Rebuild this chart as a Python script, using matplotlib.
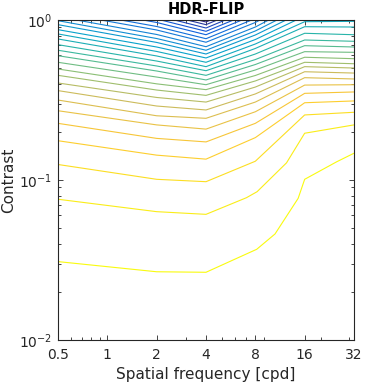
import numpy as np
import matplotlib
matplotlib.use("Agg")
import matplotlib.pyplot as plt
from matplotlib.colors import LinearSegmentedColormap
from matplotlib.ticker import FixedLocator, LogLocator, NullFormatter

# contour lines, bottom (yellow) to top (blue)
freq_cols = [0.5, 2, 4, 8, 16, 32]

# two lowest contours bend between the grid columns, so they get their own points
lowest_freq = [0.5, 2, 4, 8.16, 10.55, 14.6, 16, 25.1, 32]
lowest_contrast = [0.0309, 0.0267, 0.0265, 0.0369, 0.0460, 0.0768, 0.101, 0.130, 0.147]
second_freq = [0.5, 2, 4, 7.06, 8.2, 12.4, 16, 32]
second_contrast = [0.0758, 0.0634, 0.0610, 0.0775, 0.0845, 0.128, 0.196, 0.221]

# remaining contours, contrast at each of freq_cols (values > 1 leave the plot)
upper_contrast = [
    [0.125, 0.101, 0.0976, 0.131, 0.255, 0.265],
    [0.176, 0.143, 0.135, 0.184, 0.304, 0.312],
    [0.226, 0.182, 0.173, 0.226, 0.348, 0.355],
    [0.271, 0.221, 0.208, 0.267, 0.392, 0.394],
    [0.316, 0.252, 0.243, 0.307, 0.436, 0.428],
    [0.362, 0.290, 0.274, 0.345, 0.475, 0.466],
    [0.404, 0.328, 0.307, 0.381, 0.511, 0.501],
    [0.451, 0.365, 0.338, 0.416, 0.544, 0.533],
    [0.494, 0.399, 0.367, 0.450, 0.585, 0.573],
    [0.544, 0.440, 0.394, 0.487, 0.634, 0.628],
    [0.598, 0.480, 0.422, 0.527, 0.691, 0.678],
    [0.647, 0.516, 0.451, 0.566, 0.750, 0.736],
    [0.701, 0.554, 0.482, 0.613, 0.826, 0.809],
    [0.761, 0.596, 0.511, 0.664, 0.908, 0.904],
    [0.818, 0.636, 0.544, 0.708, 0.976, 0.981],
    [0.870, 0.678, 0.579, 0.755, 1.059, 1.067],
    [0.935, 0.724, 0.613, 0.806, 1.138, 1.155],
    [0.990, 0.766, 0.647, 0.854, 1.223, 1.241],
    [1.049, 0.812, 0.681, 0.904, 1.314, 1.334],
    [1.117, 0.866, 0.726, 0.965, 1.413, 1.433],
    [1.177, 0.911, 0.764, 1.022, 1.518, 1.540],
    [1.246, 0.965, 0.809, 1.082, 1.631, 1.655],
    [1.309, 1.015, 0.850, 1.138, 1.728, 1.753],
    [1.372, 1.067, 0.891, 1.197, 1.830, 1.857],
    [1.439, 1.114, 0.935, 1.259, 1.939, 1.967],
    [1.496, 1.155, 0.972, 1.314, 2.024, 2.054],
]

x_ticks = [0.5, 1, 2, 4, 8, 16, 32]
x_tick_labels = ["0.5", "1", "2", "4", "8", "16", "32"]

# rough parula
parula = LinearSegmentedColormap.from_list(
    "parula",
    ["#352A87", "#0F5CDD", "#1481D6", "#06A4CA", "#2EB7A4",
     "#87BF77", "#D1BB59", "#FEC832", "#F9FB0E"],
)

lines = [(lowest_freq, lowest_contrast), (second_freq, second_contrast)]
lines += [(freq_cols, row) for row in upper_contrast]
n_lines = len(lines)

fig = plt.figure(figsize=(3.65, 3.86), dpi=100)
ax = fig.add_axes([58 / 365, 1 - 340 / 386, 296 / 365, 320 / 386])

for i, (fx, cy) in enumerate(lines):
    color = parula(1 - i / (n_lines - 1))
    ax.plot(fx, cy, color=color, linewidth=0.8)

ax.set_xscale("log")
ax.set_yscale("log")
ax.set_xlim(0.5, 32)
ax.set_ylim(0.01, 1)

ax.xaxis.set_major_locator(FixedLocator(x_ticks))
ax.set_xticklabels(x_tick_labels)
ax.xaxis.set_minor_locator(LogLocator(base=10, subs=np.arange(2, 10)))
ax.xaxis.set_minor_formatter(NullFormatter())
ax.yaxis.set_minor_locator(LogLocator(base=10, subs=np.arange(2, 10)))

ax.tick_params(which="both", direction="in", top=True, right=True,
               colors="#262626", labelcolor="#262626", width=0.6)
ax.tick_params(which="major", length=3.5, labelsize=10)
ax.tick_params(which="minor", length=2)
ax.tick_params(axis="x", which="major", pad=6)
ax.tick_params(axis="y", which="major", pad=4)
for side in ax.spines.values():
    side.set_color("#262626")
    side.set_linewidth(0.8)

ax.set_xlabel("Spatial frequency [cpd]", fontsize=11, color="#262626", labelpad=3)
ax.set_ylabel("Contrast", fontsize=11, color="#262626", labelpad=2)
ax.set_title("HDR-FLIP", fontsize=10.5, fontweight="bold", pad=4)

fig.savefig("out.png", dpi=100)
